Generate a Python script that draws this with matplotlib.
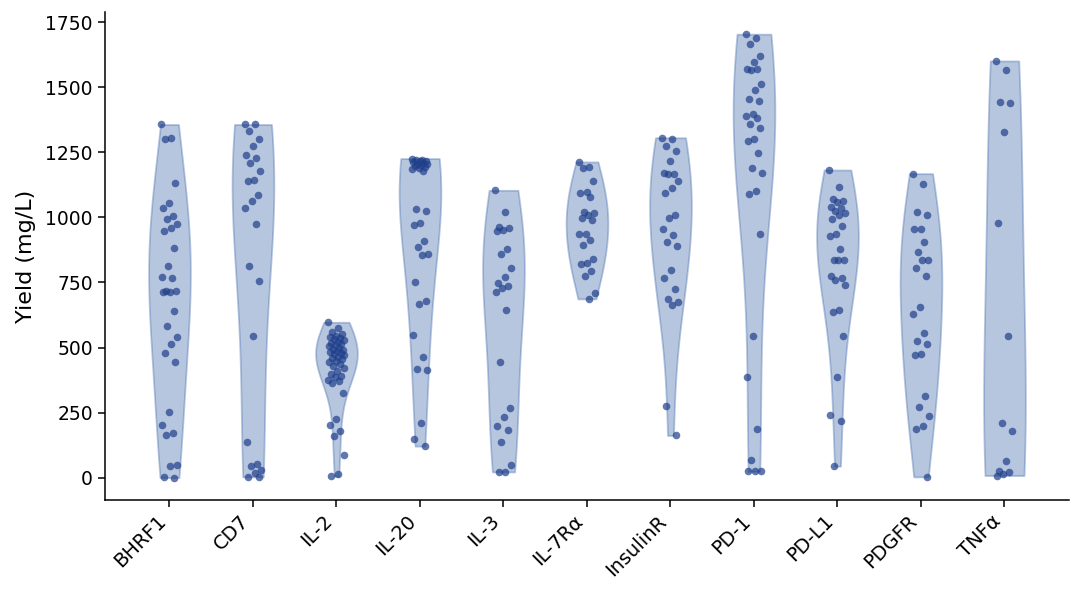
import numpy as np
import matplotlib
matplotlib.use("Agg")
import matplotlib.pyplot as plt

# datos (mg/L)
categorias = ["BHRF1", "CD7", "IL-2", "IL-20", "IL-3", "IL-7R\u03b1",
              "InsulinR", "PD-1", "PD-L1", "PDGFR", "TNF\u03b1"]

bhrf1 = [1357, 1306, 1302, 1131, 1056, 1035, 1005, 992, 973, 961, 948, 884, 815,
         772, 769, 717, 717, 713, 713, 640, 584, 541, 515, 477, 445, 253, 204,
         172, 165, 50, 46, 1, 0]
cd7 = [1357, 1357, 1332, 1300, 1274, 1238, 1230, 1210, 1178, 1143, 1139, 1085,
       1063, 1035, 973, 813, 755, 543, 136, 54, 43, 31, 18, 3, 3]
il2 = [597, 574, 560, 552, 545, 540, 536, 531, 527, 522, 518, 514, 510, 505, 500,
       496, 492, 488, 483, 479, 475, 470, 465, 460, 455, 450, 444, 438, 430, 420,
       410, 400, 392, 385, 377, 370, 365, 327, 227, 204, 178, 159, 88, 15, 5]
il20 = [1226, 1222, 1220, 1218, 1215, 1212, 1210, 1207, 1204, 1200, 1196, 1192,
        1188, 1184, 1180, 1031, 1025, 980, 969, 909, 887, 858, 854, 753, 678, 669,
        547, 464, 418, 415, 210, 150, 121]
il3 = [1104, 1020, 963, 958, 952, 947, 877, 860, 804, 770, 749, 738, 729, 713,
       646, 443, 268, 232, 200, 182, 138, 50, 22, 22]
il7r = [1213, 1195, 1191, 1140, 1097, 1092, 1080, 1020, 1015, 1008, 999, 990, 938,
        935, 915, 892, 841, 826, 819, 793, 774, 708, 687]
insulinr = [1306, 1302, 1274, 1255, 1216, 1172, 1168, 1165, 1140, 1114, 1092,
            1011, 999, 956, 931, 905, 890, 797, 768, 723, 687, 675, 665, 274, 162]
pd1 = [1704, 1691, 1665, 1620, 1597, 1572, 1569, 1567, 1511, 1490, 1454, 1447,
       1396, 1390, 1383, 1358, 1345, 1303, 1293, 1249, 1191, 1169, 1101, 1088, 935,
       543, 387, 185, 67, 24, 24, 24]
pdl1 = [1182, 1117, 1069, 1064, 1059, 1041, 1035, 1025, 1018, 1008, 995, 967, 935,
        928, 877, 838, 838, 836, 774, 766, 759, 742, 643, 637, 543, 387, 242, 217, 44]
pdgfr = [1168, 1127, 1020, 1008, 956, 954, 905, 867, 838, 835, 804, 774, 656, 627,
         554, 524, 515, 476, 473, 315, 270, 238, 197, 185, 3]
tnfa = [1601, 1565, 1445, 1441, 1328, 980, 546, 210, 178, 65, 25, 20, 15, 8]

datos = [bhrf1, cd7, il2, il20, il3, il7r, insulinr, pd1, pdl1, pdgfr, tnfa]


def ancho_banda(kde):
    # scott un poco mas suave
    return 1.5 * kde.num_dp ** (-1.0 / 5)


fig, ax = plt.subplots(figsize=(10.8, 6), dpi=100)
fig.subplots_adjust(left=0.097, right=0.99, top=0.98, bottom=0.167)

pos = np.arange(len(categorias))
vp = ax.violinplot(datos, positions=pos, widths=0.5, showextrema=False,
                   bw_method=ancho_banda, points=200)
for b in vp["bodies"]:
    b.set_facecolor("#4c72b0")
    b.set_edgecolor("#4c72b0")
    b.set_linewidth(1.3)
    b.set_alpha(0.4)

# jitter deterministico para los puntos
for i, d in enumerate(datos):
    n = len(d)
    off = (((np.arange(n) * 0.6180339) % 1.0) - 0.5) * 0.2
    ax.scatter(pos[i] + off, d, s=30, color="#1f3f8a", alpha=0.7,
               linewidths=0, zorder=3)

ax.set_xticks(pos)
ax.set_xticklabels(categorias, rotation=45, ha="right", fontsize=14)
ax.tick_params(axis="y", labelsize=13.5)
ax.tick_params(length=5, width=1.1)
ax.set_ylabel("Yield (mg/L)", fontsize=16, labelpad=7)
ax.spines["top"].set_visible(False)
ax.spines["right"].set_visible(False)
ax.spines["left"].set_linewidth(1.1)
ax.spines["bottom"].set_linewidth(1.1)

plt.savefig("out.png")
